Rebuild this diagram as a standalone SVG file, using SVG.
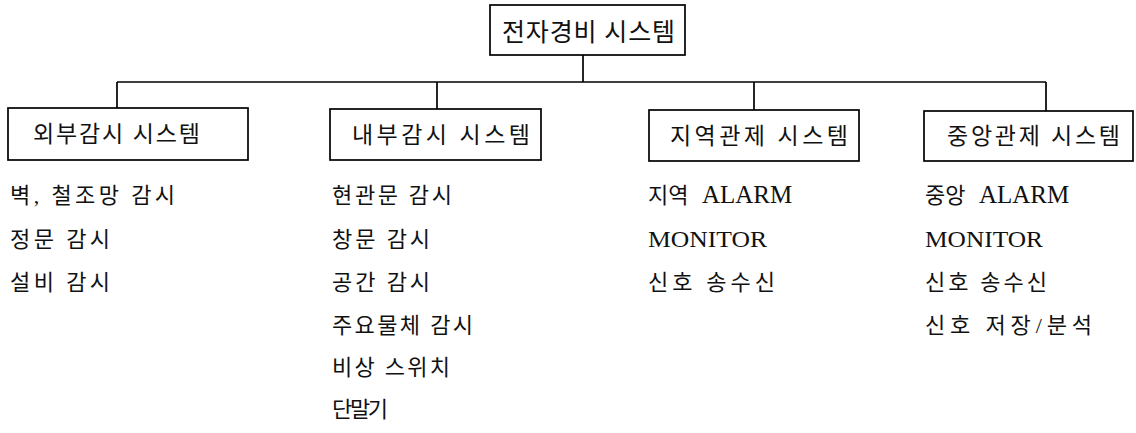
<svg xmlns="http://www.w3.org/2000/svg" width="1136" height="433" viewBox="0 0 1136 433">
<style>
.box{fill:#fff;stroke:#000;stroke-width:1.7}
.ln{fill:none;stroke:#000;stroke-width:1.7}
text{font-family:"Liberation Serif","Noto Sans CJK KR",serif;fill:#111}
.t{font-size:23px}
.h{font-size:25px}
.i{font-size:22px}
</style>
<rect width="1136" height="433" fill="#fff"/>
<g id="connectors">
<path class="ln" d="M583 55V82M117 82H1046M117 82V108M437 82V109M754 82V110M1046 82V111"/>
</g>
<g id="root">
<rect class="box" x="490" y="5" width="195" height="50"/>
<text class="h" x="502" y="41" textLength="173" lengthAdjust="spacing">전자경비 시스템</text>
</g>
<g id="outer">
<rect class="box" x="8" y="108" width="240" height="52"/>
<text class="t" x="33" y="142" textLength="167" lengthAdjust="spacing">외부감시 시스템</text>
<text class="i" x="10" y="203" textLength="165" lengthAdjust="spacing">벽, 철조망 감시</text>
<text class="i" x="10" y="247" textLength="100" lengthAdjust="spacing">정문 감시</text>
<text class="i" x="10" y="290" textLength="100" lengthAdjust="spacing">설비 감시</text>
</g>
<g id="inner">
<rect class="box" x="330" y="109" width="211" height="51"/>
<text class="t" x="352" y="143" textLength="178" lengthAdjust="spacing">내부감시 시스템</text>
<text class="i" x="332" y="203" textLength="120" lengthAdjust="spacing">현관문 감시</text>
<text class="i" x="332" y="247" textLength="98" lengthAdjust="spacing">창문 감시</text>
<text class="i" x="332" y="290" textLength="98" lengthAdjust="spacing">공간 감시</text>
<text class="i" x="332" y="333" textLength="141" lengthAdjust="spacing">주요물체 감시</text>
<text class="i" x="332" y="375" textLength="118" lengthAdjust="spacing">비상 스위치</text>
<text class="i" x="332" y="417" textLength="56" lengthAdjust="spacing">단말기</text>
</g>
<g id="local">
<rect class="box" x="649" y="110" width="210" height="51"/>
<text class="t" x="670" y="144" textLength="178" lengthAdjust="spacing">지역관제 시스템</text>
<text class="i" x="648" y="203">지역 <tspan font-size="25" dx="8">ALARM</tspan></text>
<text x="648" y="247" font-size="24" textLength="119" lengthAdjust="spacingAndGlyphs">MONITOR</text>
<text class="i" x="648" y="290" textLength="127" lengthAdjust="spacing">신호 송수신</text>
</g>
<g id="central">
<rect class="box" x="924" y="111" width="209" height="50"/>
<text class="t" x="947" y="144" textLength="173" lengthAdjust="spacing">중앙관제 시스템</text>
<text class="i" x="925" y="203">중앙 <tspan font-size="25" dx="8">ALARM</tspan></text>
<text x="925" y="247" font-size="24" textLength="118" lengthAdjust="spacingAndGlyphs">MONITOR</text>
<text class="i" x="925" y="290" textLength="122" lengthAdjust="spacing">신호 송수신</text>
<text class="i" x="925" y="333" textLength="167" lengthAdjust="spacing">신호 저장/분석</text>
</g>
</svg>
